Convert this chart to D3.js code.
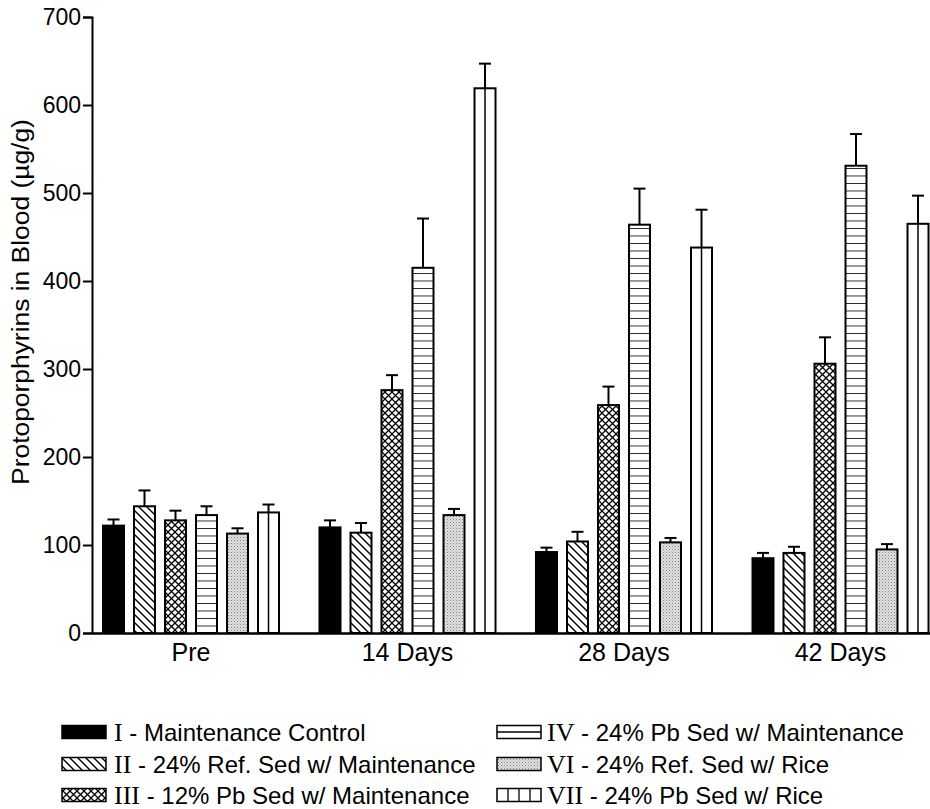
<!DOCTYPE html>
<html>
<head>
<meta charset="utf-8">
<script src="https://cdn.jsdelivr.net/npm/d3@7"></script>
<style>
  body { margin: 0; background: #fff; }
  text { font-family: "Liberation Sans", Arial, sans-serif; fill: #000; }
  .roman { font-family: "Liberation Serif", "Times New Roman", serif; }
</style>
</head>
<body>
<div id="chart"></div>
<script>
// data
var groups = ["Pre", "14 Days", "28 Days", "42 Days"];
var seriesKeys = ["I", "II", "III", "IV", "VI", "VII"];
var seriesLabels = [
    " - Maintenance Control",
    " - 24% Ref. Sed w/ Maintenance",
    " - 12% Pb Sed w/ Maintenance",
    " - 24% Pb Sed w/ Maintenance",
    " - 24% Ref. Sed w/ Rice",
    " - 24% Pb Sed w/ Rice"
];
var means = {
    I:   [122, 120, 92, 85],
    II:  [144, 114, 104, 91],
    III: [128, 276, 259, 306],
    IV:  [134, 415, 464, 531],
    VI:  [113, 134, 103, 95],
    VII: [137, 619, 438, 465]
};
var errs = {
    I:   [7, 8, 5, 6],
    II:  [18, 11, 11, 7],
    III: [11, 17, 21, 30],
    IV:  [10, 56, 41, 36],
    VI:  [6, 7, 5, 6],
    VII: [9, 28, 43, 32]
};
var yTicks = [0, 100, 200, 300, 400, 500, 600, 700];

var svgWidth = 930;
var svgHeight = 809;

var margin = { top: 17, left: 92 };
var baseY = 633;

var svg = d3.select("#chart")
    .append("svg")
    .attr("width", svgWidth)
    .attr("height", svgHeight);

// patterns
var defs = svg.append("defs");

var p2 = defs.append("pattern")
    .attr("id", "pat-II")
    .attr("patternUnits", "userSpaceOnUse")
    .attr("width", 8).attr("height", 8);
p2.append("rect").attr("width", 8).attr("height", 8).attr("fill", "#fff");
p2.append("path")
    .attr("d", "M-2,-2L10,10M-2,6L2,10M6,-2L10,2")
    .attr("stroke", "#000").attr("stroke-width", 1.4);

var p3 = defs.append("pattern")
    .attr("id", "pat-III")
    .attr("patternUnits", "userSpaceOnUse")
    .attr("width", 7).attr("height", 7);
p3.append("rect").attr("width", 7).attr("height", 7).attr("fill", "#fff");
p3.append("path")
    .attr("d", "M-1,-1L8,8M-1,8L8,-1")
    .attr("stroke", "#000").attr("stroke-width", 1.3);

var p4 = defs.append("pattern")
    .attr("id", "pat-IV")
    .attr("patternUnits", "userSpaceOnUse")
    .attr("y", baseY)
    .attr("width", 10).attr("height", 7.5);
p4.append("rect").attr("width", 10).attr("height", 7.5).attr("fill", "#fff");
p4.append("line")
    .attr("x1", 0).attr("x2", 10).attr("y1", 0).attr("y2", 0)
    .attr("stroke", "#000").attr("stroke-width", 1.6);

var p6 = defs.append("pattern")
    .attr("id", "pat-VI")
    .attr("patternUnits", "userSpaceOnUse")
    .attr("width", 3).attr("height", 3);
p6.append("rect").attr("width", 3).attr("height", 3).attr("fill", "#e0e0e0");
p6.append("rect").attr("width", 1).attr("height", 1).attr("fill", "#808080");
p6.append("rect").attr("x", 1.5).attr("y", 1.5).attr("width", 1).attr("height", 1).attr("fill", "#a8a8a8");

var fills = {
    I: "#000",
    II: "url(#pat-II)",
    III: "url(#pat-III)",
    IV: "url(#pat-IV)",
    VI: "url(#pat-VI)",
    VII: "#fff"
};

// scales
var x0 = d3.scaleBand()
    .domain(groups)
    .range([margin.left, 939.5])
    .paddingInner(0.187)
    .paddingOuter(0.0508);

var x1 = d3.scaleBand()
    .domain(seriesKeys)
    .range([0, x0.bandwidth()])
    .paddingInner(0.3226)
    .paddingOuter(0);

var y = d3.scaleLinear()
    .domain([0, 700])
    .range([baseY, margin.top]);

// flat list of bars
var bars = [];
groups.forEach(function(g, gi) {
    seriesKeys.forEach(function(k) {
        bars.push({ group: g, key: k, value: means[k][gi], err: errs[k][gi] });
    });
});

var barGroup = svg.append("g");

// error bars (upper only)
barGroup.selectAll(".err")
    .data(bars)
    .enter()
    .append("line")
    .attr("x1", d => x0(d.group) + x1(d.key) + x1.bandwidth() / 2)
    .attr("x2", d => x0(d.group) + x1(d.key) + x1.bandwidth() / 2)
    .attr("y1", d => y(d.value))
    .attr("y2", d => y(d.value + d.err))
    .attr("stroke", "#000")
    .attr("stroke-width", 2);

barGroup.selectAll(".cap")
    .data(bars)
    .enter()
    .append("line")
    .attr("x1", d => x0(d.group) + x1(d.key) + x1.bandwidth() / 2 - 6)
    .attr("x2", d => x0(d.group) + x1(d.key) + x1.bandwidth() / 2 + 6)
    .attr("y1", d => y(d.value + d.err))
    .attr("y2", d => y(d.value + d.err))
    .attr("stroke", "#000")
    .attr("stroke-width", 2);

barGroup.selectAll("rect")
    .data(bars)
    .enter()
    .append("rect")
    .attr("x", d => x0(d.group) + x1(d.key))
    .attr("y", d => y(d.value))
    .attr("width", x1.bandwidth())
    .attr("height", d => baseY - y(d.value))
    .attr("fill", d => fills[d.key])
    .attr("stroke", "#000")
    .attr("stroke-width", 2);

// centre line of the vertical-striped bars
barGroup.selectAll(".vline")
    .data(bars.filter(d => d.key === "VII"))
    .enter()
    .append("line")
    .attr("x1", d => x0(d.group) + x1(d.key) + x1.bandwidth() / 2)
    .attr("x2", d => x0(d.group) + x1(d.key) + x1.bandwidth() / 2)
    .attr("y1", d => y(d.value))
    .attr("y2", baseY)
    .attr("stroke", "#000")
    .attr("stroke-width", 1.5);

// axes
var yAxis = d3.axisLeft(y)
    .tickValues(yTicks)
    .tickSize(9)
    .tickPadding(2);

var yG = svg.append("g")
    .attr("transform", `translate(${margin.left}, 0)`)
    .call(yAxis);
yG.select(".domain").attr("stroke-width", 2);
yG.selectAll(".tick line").attr("stroke-width", 2);
yG.selectAll(".tick text")
    .attr("font-size", 23)
    .attr("font-family", "Liberation Sans, Arial, sans-serif");

var xAxis = d3.axisBottom(x0)
    .tickSize(0)
    .tickPadding(10);

var xG = svg.append("g")
    .attr("transform", `translate(0, ${baseY})`)
    .call(xAxis);
xG.select(".domain").attr("stroke-width", 2.5);
xG.selectAll(".tick text")
    .attr("font-size", 25)
    .attr("font-family", "Liberation Sans, Arial, sans-serif");

svg.append("text")
    .attr("transform", "translate(29, 302) rotate(-90) scale(1.1, 1)")
    .attr("text-anchor", "middle")
    .attr("font-size", 24)
    .text("Protoporphyrins in Blood (\u00b5g/g)");

// legend
var legendPos = [
    { sx: 62, tx: 114, cy: 732 },
    { sx: 62, tx: 114, cy: 764 },
    { sx: 62, tx: 114, cy: 795 },
    { sx: 497, tx: 547, cy: 732 },
    { sx: 497, tx: 547, cy: 764 },
    { sx: 497, tx: 547, cy: 795 }
];

var legend = svg.append("g");

seriesKeys.forEach(function(k, i) {
    var p = legendPos[i];
    var sw = 44, sh = 13;
    legend.append("rect")
        .attr("x", p.sx)
        .attr("y", p.cy - sh / 2)
        .attr("width", sw)
        .attr("height", sh)
        .attr("fill", k === "IV" ? "#fff" : fills[k])
        .attr("stroke", "#000")
        .attr("stroke-width", 1.5);
    if (k === "IV") {
        legend.append("line")
            .attr("x1", p.sx).attr("x2", p.sx + sw)
            .attr("y1", p.cy).attr("y2", p.cy)
            .attr("stroke", "#000").attr("stroke-width", 1.5);
    }
    if (k === "VII") {
        [1, 2, 3].forEach(function(j) {
            legend.append("line")
                .attr("x1", p.sx + j * sw / 4).attr("x2", p.sx + j * sw / 4)
                .attr("y1", p.cy - sh / 2).attr("y2", p.cy + sh / 2)
                .attr("stroke", "#000").attr("stroke-width", 1.3);
        });
    }
    var t = legend.append("text")
        .attr("x", p.tx)
        .attr("y", p.cy + 8.5)
        .attr("font-size", 24);
    t.append("tspan").attr("class", "roman").attr("font-size", 26).text(k);
    t.append("tspan").text(seriesLabels[i]);
});
</script>
</body>
</html>
